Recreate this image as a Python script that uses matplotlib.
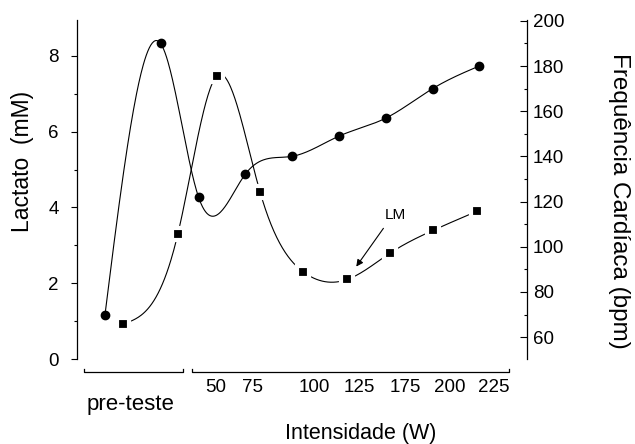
import numpy as np
import matplotlib
matplotlib.use("Agg")
import matplotlib.pyplot as plt
import matplotlib.transforms as mtrans

plt.rcParams["font.family"] = ["Liberation Sans", "DejaVu Sans"]

# time axis (arbitrary units along the test)
t_fc = [0.65, 1.94, 2.82, 3.90, 4.98, 6.08, 7.17, 8.25, 9.33]
fc = [70, 190, 122, 132, 140, 149, 157, 170, 180]          # bpm
t_lac = [1.06, 2.34, 3.24, 4.25, 5.25, 6.27, 7.27, 8.27, 9.28]
lac = [0.92, 3.3, 7.47, 4.4, 2.3, 2.1, 2.8, 3.4, 3.9]     # mM

xtick_pos = [3.23, 4.07, 5.50, 6.54, 7.61, 8.65, 9.68]
xtick_lab = ["50", "75", "100", "125", "175", "200", "225"]


def natural_spline(x, y, n=500):
    x = np.asarray(x, float)
    y = np.asarray(y, float)
    m = len(x)
    h = np.diff(x)
    A = np.zeros((m, m))
    b = np.zeros(m)
    A[0, 0] = A[-1, -1] = 1
    for i in range(1, m - 1):
        A[i, i - 1] = h[i - 1]
        A[i, i] = 2 * (h[i - 1] + h[i])
        A[i, i + 1] = h[i]
        b[i] = 6 * ((y[i + 1] - y[i]) / h[i] - (y[i] - y[i - 1]) / h[i - 1])
    M = np.linalg.solve(A, b)
    xs = np.linspace(x[0], x[-1], n)
    k = np.clip(np.searchsorted(x, xs) - 1, 0, m - 2)
    t0 = x[k + 1] - xs
    t1 = xs - x[k]
    hk = h[k]
    ys = (M[k] * t0**3 + M[k + 1] * t1**3) / (6 * hk) \
        + (y[k] / hk - M[k] * hk / 6) * t0 + (y[k + 1] / hk - M[k + 1] * hk / 6) * t1
    return xs, ys


fig = plt.figure(figsize=(6.35, 4.44), dpi=100)
ax = fig.add_axes([77 / 635, 85 / 444, 449.5 / 635, 339 / 444])
ax2 = ax.twinx()

ax.set_xlim(0, 10.43)
ax.set_ylim(0, 8.95)
ax2.set_ylim(50.3, 200.4)

# lactate (left axis), squares
xs, ys = natural_spline(t_lac, lac)
ax.plot(xs, ys, color="black", lw=0.8, zorder=2)
ax.plot(t_lac, lac, ls="none", marker="s", ms=8, mfc="black", mec="white",
        mew=3, zorder=3)

# heart rate (right axis), circles
xs, ys = natural_spline(t_fc, fc)
ax2.plot(xs, ys, color="black", lw=0.8, zorder=2)
ax2.plot(t_fc, fc, ls="none", marker="o", ms=6, mfc="black", mec="black",
         zorder=3)

for s in ["top", "bottom", "right"]:
    ax.spines[s].set_visible(False)
for s in ["top", "bottom", "left"]:
    ax2.spines[s].set_visible(False)
ax.spines["left"].set_linewidth(0.9)
ax2.spines["right"].set_linewidth(0.9)

ax.set_yticks([0, 2, 4, 6, 8])
ax.set_yticks([1, 3, 5, 7], minor=True)
ax.tick_params(axis="y", which="major", direction="out", length=4.3, width=0.8,
               labelsize=13.5, pad=9)
ax.tick_params(axis="y", which="minor", direction="out", length=2.2, width=0.8)

ax2.set_yticks(range(60, 201, 20))
ax2.set_yticks(range(70, 200, 20), minor=True)
ax2.tick_params(axis="y", which="major", direction="in", length=5, width=0.8,
                labelsize=13.5, pad=4.5)
ax2.tick_params(axis="y", which="minor", direction="in", length=2.2, width=0.8)

ax.set_xticks(xtick_pos)
ax.set_xticklabels(xtick_lab)
ax.tick_params(axis="x", length=0, labelsize=13.5, pad=14.5)

# broken baseline of the x axis
tr = mtrans.blended_transform_factory(ax.transData, ax.transAxes)
yb = -13 / 339
yt = -10 / 339
for x0, x1 in [(0.16, 2.46), (2.67, 10.03)]:
    ax.plot([x0, x0, x1, x1], [yt, yb, yb, yt], color="black", lw=0.9,
            transform=tr, clip_on=False)

ax.text(1.25, -45 / 339, "pre-teste", transform=tr, ha="center", va="center",
        fontsize=16)

fig.text(361 / 635, 1 - 433 / 444, "Intensidade (W)", ha="center", va="center",
         fontsize=15.5)
fig.text(23 / 635, 1 - 161.5 / 444, "Lactato  (mM)", ha="center", va="center",
         rotation=90, fontsize=16.5)
fig.text(619 / 635, 1 - 201 / 444, "Frequência Cardíaca (bpm)", ha="center",
         va="center", rotation=270, fontsize=17.5)

# lactate minimum annotation
ax.annotate("", xy=(6.48, 2.44), xytext=(7.11, 3.45),
            arrowprops=dict(arrowstyle="-|>", color="black", lw=0.8,
                            mutation_scale=10, shrinkA=0, shrinkB=0))
ax.text(7.38, 3.79, "LM", ha="center", va="center", fontsize=11)

fig.savefig("out.png", dpi=100)
